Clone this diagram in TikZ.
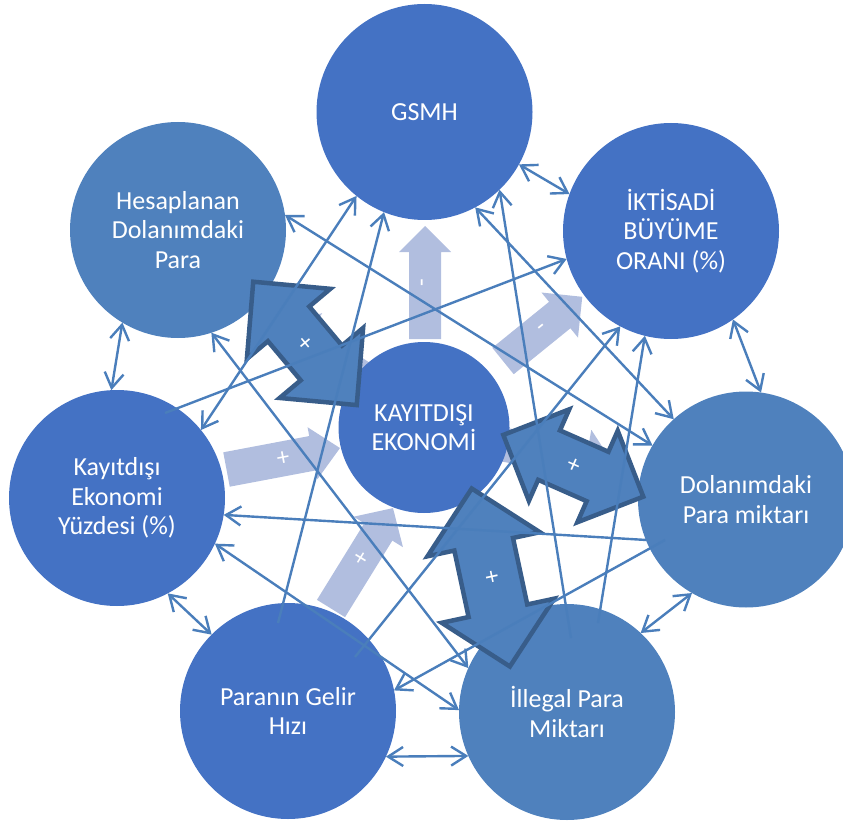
\documentclass[tikz,border=0pt]{standalone}
\usepackage{fontspec}
\setmainfont{Carlito}
\usetikzlibrary{arrows.meta,calc}
\definecolor{cdark}{HTML}{4472C4}
\definecolor{clight}{HTML}{4F81BD}
\definecolor{cline}{HTML}{4A7EBB}
\definecolor{cpale}{HTML}{B1BEDF}
\definecolor{cborder}{HTML}{385D8A}
% pale single arrow: name, tail x, tail y, angle, length, head length, head width, shaft width, label
\newcommand{\palearr}[9]{%
\begin{scope}[shift={(#2,#3)}, rotate=#4]
\fill[cpale] (0,{-#8/2}) -- ({#5-#6},{-#8/2}) -- ({#5-#6},{-#7/2}) -- (#5,0) -- ({#5-#6},{#7/2}) -- ({#5-#6},{#8/2}) -- (0,{#8/2}) -- cycle;
\node[sign, rotate=#4] (#1) at ({#5/2},0) {#9};
\end{scope}}
% big double arrow: name, centre x, centre y, angle, length, head length, head width, shaft width, label
\newcommand{\dblarr}[9]{%
\begin{scope}[shift={(#2,#3)}, rotate=#4]
\draw[bigarr] ({-#5/2},0) -- ({-#5/2+#6},{-#7/2}) -- ({-#5/2+#6},{-#8/2}) -- ({#5/2-#6},{-#8/2}) -- ({#5/2-#6},{-#7/2}) -- ({#5/2},0) -- ({#5/2-#6},{#7/2}) -- ({#5/2-#6},{#8/2}) -- ({-#5/2+#6},{#8/2}) -- ({-#5/2+#6},{#7/2}) -- cycle;
\node[sign, rotate=#4] (#1) at (0,0) {#9};
\end{scope}}
\begin{document}
\begin{tikzpicture}[x=1pt,y=-1pt,
  bub/.style={circle, minimum size=216pt, inner sep=0pt, outer sep=0pt},
  dk/.style={bub, fill=cdark},
  lt/.style={bub, fill=clight},
  lbl/.style={text=white, align=center, font=\fontsize{26}{29.5}\selectfont},
  conn/.style={draw=cline, line width=2.4pt},
  bi/.style={conn, {Straight Barb[length=15pt,width=19pt]}-{Straight Barb[length=15pt,width=19pt]}},
  uni/.style={conn, -{Straight Barb[length=15pt,width=19pt]}},
  bigarr/.style={fill=clight, draw=cborder, line width=4.5pt, line join=miter},
  sign/.style={text=white, font=\fontsize{25}{25}\selectfont, inner sep=0pt}
]
\useasboundingbox (0,0) rectangle (843,821);

% pale arrows
\palearr{pa}{425}{339}{90}{113}{26}{52}{32}{-}
\palearr{pb}{503}{361}{39}{102}{29}{58}{34}{-}
\palearr{pc}{226.5}{469.5}{10.7}{115.5}{28}{53}{35}{+}
\palearr{pd}{331}{608.5}{58.3}{118}{28}{58}{33}{+}
\palearr{pe}{365}{380}{146.4}{100.6}{28}{64}{34}{}
\palearr{pf}{500}{444}{-10.1}{115.4}{28}{60}{34}{}

% circles
\node[dk] (gsmh) at (424.5,112) {};
\node[dk] (ikt) at (671,231) {};
\node[lt] (dol) at (746,499.5) {};
\node[lt] (ill) at (567,712) {};
\node[dk] (par) at (288,711) {};
\node[dk] (yuz) at (117,498) {};
\node[lt] (hes) at (178,230) {};
\node[dk, minimum size=171pt] (kay) at (424,427.5) {};

% big double arrows
\dblarr{ba}{305}{343.4}{-50}{161}{55}{109}{54}{+}
\dblarr{bb}{573.3}{465.8}{-23.8}{153}{50}{100}{54}{+}
\dblarr{bc}{490.8}{577.5}{-77.9}{182}{57}{115}{60}{+}

% free ends inside circles
\coordinate (c3) at ($(yuz.center)+(48,-85)$);
\coordinate (c5) at ($(par.center)+(-10,-88)$);
\coordinate (c9) at ($(dol.center)+(-81,40.5)$);
\coordinate (c10) at ($(par.center)+(67,-54)$);
\coordinate (c11) at ($(ill.center)+(31,-89)$);
\coordinate (c12) at ($(ill.center)+(4,-74)$);

% ring connectors
\draw[bi] (gsmh.-29) -- (ikt.160);
\draw[bi] (ikt.-55) -- (dol.82);
\draw[bi] (dol.-120) -- (ill.47);
\draw[bi] (par.-25) -- (ill.-156);
\draw[bi] (yuz.-62) -- (par.135);
\draw[bi] (hes.-121) -- (yuz.93);

% inner connectors
\draw[bi] (hes.8) -- (dol.150);
\draw[bi] (gsmh.-62) -- (dol.132);
\draw[uni] (c3) -- (ikt.195);
\draw[bi] (gsmh.231) -- (yuz.39);
\draw[uni] (c5) -- (gsmh.248);
\draw[bi] (hes.-72) -- (ill.156);
\draw[bi] (yuz.-25) -- (ill.179);
\draw[uni] (dol.202) -- (yuz.-9);
\draw[uni] (c9) -- (par.11);
\draw[uni] (c10) -- (ikt.242);
\draw[uni] (c11) -- (ikt.-104);
\draw[uni] (c12) -- (gsmh.-46);

% texts
\node[lbl] (gsmh-t) at (gsmh) {GSMH};
\node[lbl] (ikt-t) at (ikt) {İKTİSADİ\\BÜYÜME\\ORANI (\%)};
\node[lbl] (dol-t) at (dol) {Dolanımdaki\\Para miktarı};
\node[lbl] (ill-t) at (ill) {İllegal Para\\Miktarı};
\node[lbl] (par-t) at (par) {Paranın Gelir\\Hızı};
\node[lbl] (yuz-t) at (yuz) {Kayıtdışı\\Ekonomi\\Yüzdesi (\%)};
\node[lbl] (hes-t) at (hes) {Hesaplanan\\Dolanımdaki\\Para};
\node[lbl] (kay-t) at (kay) {KAYITDIŞI\\EKONOMİ};
\end{tikzpicture}
\end{document}
